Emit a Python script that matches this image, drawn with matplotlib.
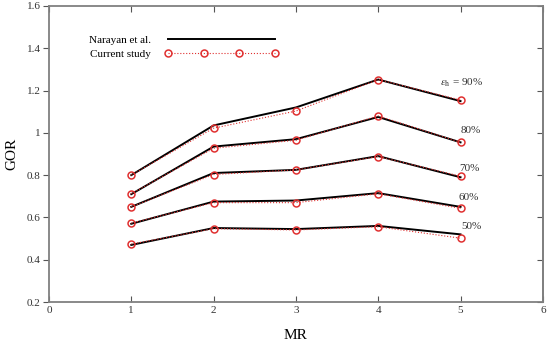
import matplotlib
matplotlib.use("Agg")
import matplotlib.pyplot as plt

plt.rcParams['font.family'] = ['Liberation Serif', 'DejaVu Serif']
plt.rcParams['mathtext.fontset'] = 'stix'

mr = [1, 2, 3, 4, 5]
porosity_labels = ["$\\epsilon_{\\rm h}$ = 90%", "80%", "70%", "60%", "50%"]

# Narayan et al. (black)
nar_90 = [0.80, 1.035, 1.12, 1.252, 1.15]
nar_80 = [0.71, 0.935, 0.97, 1.075, 0.955]
nar_70 = [0.65, 0.81, 0.825, 0.89, 0.79]
nar_60 = [0.57, 0.675, 0.68, 0.715, 0.65]
nar_50 = [0.47, 0.55, 0.545, 0.56, 0.52]

# current study (red)
cur_90 = [0.80, 1.022, 1.103, 1.252, 1.155]
cur_80 = [0.712, 0.927, 0.965, 1.08, 0.955]
cur_70 = [0.65, 0.803, 0.825, 0.888, 0.795]
cur_60 = [0.573, 0.67, 0.67, 0.712, 0.643]
cur_50 = [0.474, 0.547, 0.541, 0.556, 0.502]

narayan = [nar_90, nar_80, nar_70, nar_60, nar_50]
current = [cur_90, cur_80, cur_70, cur_60, cur_50]

fig = plt.figure(figsize=(5.5, 3.48), dpi=100)
ax = fig.add_axes([0.089, 0.132, 0.898, 0.851])

for i, (n, c) in enumerate(zip(narayan, current)):
    ax.plot(mr, n, color='black', lw=1.4, zorder=2,
            label='Narayan et al.' if i == 0 else None)
    ax.plot(mr, c, color='#e03030', lw=0.8, ls=':', marker='o', ms=5,
            mfc='none', mec='#e03030', mew=1.1, zorder=3,
            label='Current study' if i == 0 else None)

# curve labels
lab_y = [1.238, 1.01, 0.833, 0.695, 0.557]
lab_x = [4.75, 5.0, 4.98, 4.98, 5.01]
for x, y, t in zip(lab_x, lab_y, porosity_labels):
    ax.text(x, y, t, fontsize=8, color='#333333', va='center', ha='left')

ax.set_xlim(0, 6)
ax.set_ylim(0.2, 1.6)
ax.set_xticks(range(0, 7))
ax.set_yticks([0.2, 0.4, 0.6, 0.8, 1.0, 1.2, 1.4, 1.6])
ax.set_yticklabels(['0.2', '0.4', '0.6', '0.8', '1', '1.2', '1.4', '1.6'])
ax.set_xlabel('MR', fontsize=11, labelpad=10)
ax.set_ylabel('GOR', fontsize=11, labelpad=6)

for s in ax.spines.values():
    s.set_color('#808080')
    s.set_linewidth(1.3)
ax.tick_params(axis='x', direction='in', top=True, length=4, color='#555555',
               labelsize=8, labelcolor='#333333', pad=3)
ax.tick_params(axis='y', direction='out', right=False, length=4, color='#555555',
               labelsize=8, labelcolor='#333333', pad=2)
sec = ax.secondary_yaxis('right')
sec.tick_params(direction='in', length=4, color='#555555', labelright=False)
sec.spines['right'].set_color('#808080')
sec.spines['right'].set_linewidth(1.3)

ax.legend(loc='upper left', bbox_to_anchor=(0.06, 0.935), frameon=False,
          markerfirst=False, handlelength=10.2, numpoints=4, fontsize=8,
          handletextpad=1.3, labelspacing=0.35)

fig.savefig('out.png', dpi=100)
